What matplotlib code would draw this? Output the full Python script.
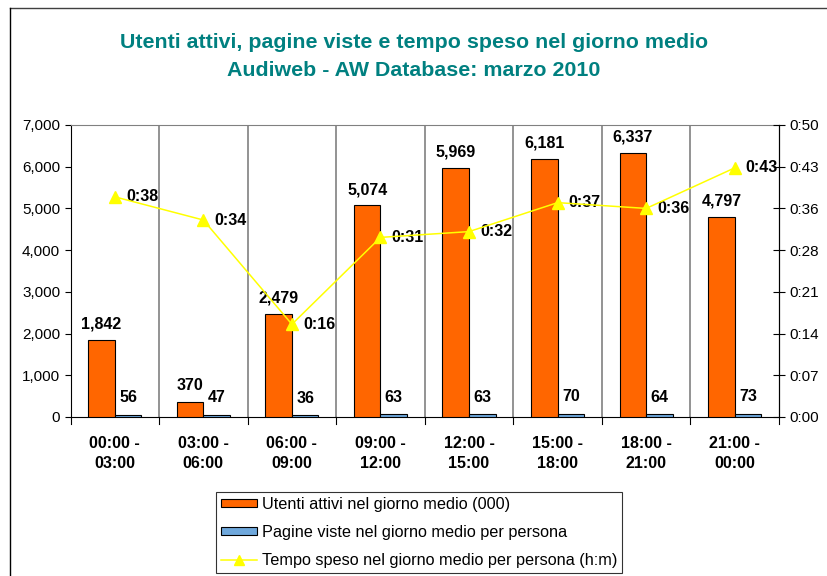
import matplotlib
matplotlib.use('Agg')
import matplotlib.pyplot as plt
import numpy as np
from matplotlib.lines import Line2D
from matplotlib.patches import Patch

plt.rcParams['font.family'] = ['Liberation Sans', 'DejaVu Sans']

categories = ['00:00 -\n03:00', '03:00 -\n06:00', '06:00 -\n09:00', '09:00 -\n12:00',
              '12:00 -\n15:00', '15:00 -\n18:00', '18:00 -\n21:00', '21:00 -\n00:00']
utenti = [1842, 370, 2479, 5074, 5969, 6181, 6337, 4797]
pagine = [56, 47, 36, 63, 63, 70, 64, 73]
tempo_min = [38, 34, 16, 31, 32, 37, 36, 43]

orange = '#FF6600'
blue = '#6FA8DC'
yellow = '#FFFF00'
teal = '#008080'

fig = plt.figure(figsize=(8.28, 5.76), dpi=100)
ax1 = fig.add_axes([70.5 / 828, 1 - 417 / 576, (779 - 70.5) / 828, (417 - 125) / 576])
ax2 = ax1.twinx()

x = np.arange(len(categories))
w = 0.3
ax1.bar(x - w / 2, utenti, w, color=orange, edgecolor='black', linewidth=0.8, zorder=3)
ax1.bar(x + w / 2, pagine, w, color=blue, edgecolor='black', linewidth=0.8, zorder=3)

for xi, v in zip(x, utenti):
    ax1.annotate(f'{v:,}', (xi - w / 2, v), xytext=(0, 6), textcoords='offset points',
                 ha='center', va='bottom', fontsize=11.5, fontweight='bold')
for xi, v in zip(x, pagine):
    ax1.annotate(f'{v}', (xi + w / 2, v), xytext=(0, 7), textcoords='offset points',
                 ha='center', va='bottom', fontsize=11.5, fontweight='bold')

ax1.set_xlim(-0.5, len(categories) - 0.5)
ax1.set_ylim(0, 7000)
ax1.set_yticks(range(0, 7001, 1000))
ax1.set_yticklabels([f'{t:,}' for t in range(0, 7001, 1000)], fontsize=11)
ax1.set_xticks(x)
ax1.set_xticklabels(categories, fontsize=11.5, fontweight='bold', linespacing=1.35)
ax1.tick_params(axis='x', length=0, pad=14)
ax1.tick_params(axis='y', direction='out', length=4)

# category separators
for b in np.arange(-0.5, len(categories), 1.0):
    if -0.5 < b < len(categories) - 0.5:
        ax1.axvline(b, color='#808080', linewidth=1.2, zorder=1)
    ax1.plot([b, b], [0, -0.025], transform=ax1.get_xaxis_transform(),
             color='black', linewidth=0.8, clip_on=False)

ax1.spines['top'].set_color('#808080')
for s in ['left', 'bottom', 'right']:
    ax1.spines[s].set_color('black')

# right axis in minutes (Excel style h:mm, truncated)
ax2.plot(x, tempo_min, color=yellow, linewidth=1.1, marker='^', markersize=8, zorder=4)
for xi, v in zip(x, tempo_min):
    ax2.annotate(f'0:{int(v):02d}', (xi, v), xytext=(8, 0), textcoords='offset points',
                 ha='left', va='center', fontsize=11.5, fontweight='bold')
rticks = [i * 7.2 for i in range(8)]
ax2.set_ylim(0, 50.4)
ax2.set_yticks(rticks)
ax2.set_yticklabels([f'0:{int(np.floor(t + 1e-9)):02d}' for t in rticks], fontsize=11)
ax2.tick_params(axis='y', direction='inout', length=8)
ax2.spines['right'].set_color('black')
ax2.spines['top'].set_visible(False)
ax2.spines['left'].set_visible(False)
ax2.spines['bottom'].set_visible(False)

fig.text(0.5, 1 - 42 / 576, 'Utenti attivi, pagine viste e tempo speso nel giorno medio',
         ha='center', va='center', fontsize=15.4, fontweight='bold', color=teal)
fig.text(0.5, 1 - 70 / 576, 'Audiweb - AW Database: marzo 2010',
         ha='center', va='center', fontsize=15.4, fontweight='bold', color=teal)

# outer chart border
fig.add_artist(Line2D([10 / 828, 1.0], [1 - 8 / 576, 1 - 8 / 576], color='#404040', linewidth=1))
fig.add_artist(Line2D([10 / 828, 10 / 828], [0, 1 - 8 / 576], color='black', linewidth=1))

handles = [
    Patch(facecolor=orange, edgecolor='black', linewidth=0.8),
    Patch(facecolor=blue, edgecolor='black', linewidth=0.8),
    Line2D([], [], color=yellow, marker='^', markersize=7, linewidth=1.1),
]
labels = ['Utenti attivi nel giorno medio (000)',
          'Pagine viste nel giorno medio per persona',
          'Tempo speso nel giorno medio per persona (h:m)']
leg = fig.legend(handles, labels, loc='upper left', bbox_to_anchor=(216 / 828, 1 - 492 / 576),
                 fontsize=11.7, frameon=True, fancybox=False, edgecolor='black',
                 handlelength=2.2, handleheight=0.45, handletextpad=0.3,
                 labelspacing=0.8, borderpad=0.3, borderaxespad=0)
leg.get_frame().set_linewidth(0.8)

fig.savefig('out.png', dpi=100)
